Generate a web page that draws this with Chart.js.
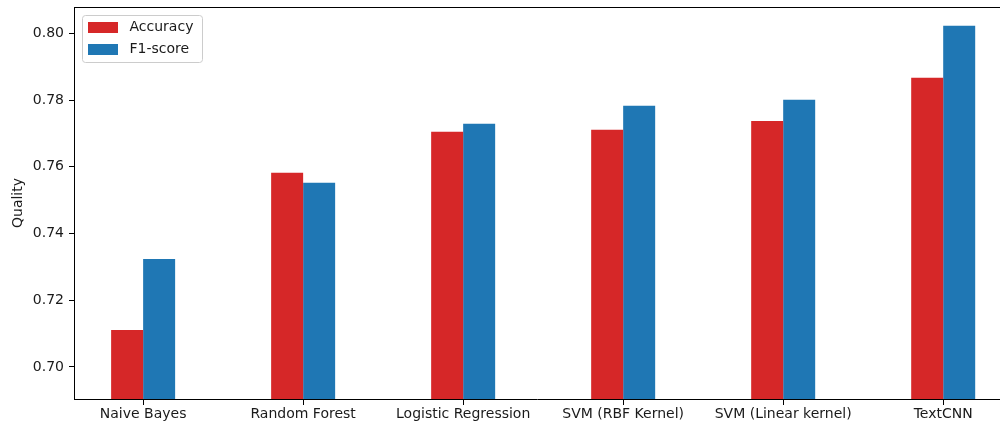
<!DOCTYPE html>
<html>
<head>
<meta charset="utf-8">
<title>Model quality comparison</title>
<script src="https://cdn.jsdelivr.net/npm/chart.js@4.4.1/dist/chart.umd.min.js"></script>
<style>
  html, body { margin: 0; padding: 0; background: #ffffff; overflow: hidden; }
  canvas { display: block; }
</style>
</head>
<body>
<canvas id="chart" width="1000" height="425"></canvas>
<script>
// Classifier names along the x axis
const categories = ['Naive Bayes', 'Random Forest', 'Logistic Regression', 'SVM (RBF Kernel)', 'SVM (Linear kernel)', 'TextCNN'];
// Scores per classifier
const accuracy = [0.7111, 0.7582, 0.7705, 0.7711, 0.7737, 0.7867];
const f1score  = [0.7324, 0.7552, 0.7729, 0.7783, 0.7801, 0.8023];
// Y-axis tick values
const yTicks = [0.70, 0.72, 0.74, 0.76, 0.78, 0.80];

const FONT = 'DejaVu Sans';
const RED = '#d62728';
const BLUE = '#1f77b4';

function toPoints(values) {
  return values.map((v, i) => ({ x: i, y: v }));
}

// Top spine, x tick marks under each category, and an in-plot legend box
const framePlugin = {
  id: 'frameAndLegend',
  afterDraw(chart) {
    const ctx = chart.ctx;
    const area = chart.chartArea;
    const xs = chart.scales.x;
    ctx.save();
    ctx.fillStyle = '#000';
    ctx.fillRect(area.left, Math.round(area.top), area.right - area.left, 1);
    const bottom = Math.round(area.bottom);
    categories.forEach((c, i) => {
      const px = Math.round(xs.getPixelForValue(i));
      ctx.fillRect(px, bottom, 1, 6);
    });

    const bx = area.left + 8.5, by = Math.round(area.top) + 8.5, bw = 120, bh = 47, r = 3;
    ctx.beginPath();
    ctx.moveTo(bx + r, by);
    ctx.lineTo(bx + bw - r, by);
    ctx.arcTo(bx + bw, by, bx + bw, by + r, r);
    ctx.lineTo(bx + bw, by + bh - r);
    ctx.arcTo(bx + bw, by + bh, bx + bw - r, by + bh, r);
    ctx.lineTo(bx + r, by + bh);
    ctx.arcTo(bx, by + bh, bx, by + bh - r, r);
    ctx.lineTo(bx, by + r);
    ctx.arcTo(bx, by, bx + r, by, r);
    ctx.closePath();
    ctx.fillStyle = 'rgba(255,255,255,0.8)';
    ctx.fill();
    ctx.strokeStyle = '#cccccc';
    ctx.lineWidth = 1;
    ctx.stroke();

    ctx.font = '14px "' + FONT + '"';
    ctx.textBaseline = 'middle';
    ctx.textAlign = 'left';
    chart.data.datasets.forEach((ds, i) => {
      const y = Math.round(by) + 6 + i * 22;
      ctx.fillStyle = ds.backgroundColor;
      ctx.fillRect(Math.round(bx) + 5, y, 30, 11);
      ctx.fillStyle = '#1a1a1a';
      ctx.fillText(ds.label, bx + 47, y + 5.5);
    });
    ctx.restore();
  }
};

new Chart(document.getElementById('chart'), {
  type: 'bar',
  data: {
    datasets: [
      { label: 'Accuracy', data: toPoints(accuracy), backgroundColor: RED, borderWidth: 0 },
      { label: 'F1-score', data: toPoints(f1score), backgroundColor: BLUE, borderWidth: 0 }
    ]
  },
  options: {
    responsive: false,
    animation: false,
    devicePixelRatio: 1,
    categoryPercentage: 0.4,
    barPercentage: 1.0,
    layout: { padding: { top: 7, right: 0, bottom: 0, left: 0 } },
    plugins: {
      legend: { display: false },
      tooltip: { enabled: false }
    },
    scales: {
      x: {
        type: 'linear',
        min: -0.432,
        max: 5.355,
        offset: false,
        grid: { offset: false, drawOnChartArea: false, drawTicks: true, tickLength: 5, tickColor: 'rgba(0,0,0,0)' },
        border: { display: true, color: '#000', width: 1 },
        afterBuildTicks(scale) {
          scale.ticks = categories.map((c, i) => ({ value: i }));
        },
        afterFit(scale) {
          scale.height = 26;
          scale.paddingLeft = 0;
          scale.paddingRight = 0;
        },
        ticks: {
          autoSkip: false,
          maxRotation: 0,
          padding: 2,
          color: '#1a1a1a',
          font: { family: FONT, size: 14 },
          callback: (v) => categories[v]
        }
      },
      y: {
        min: 0.6904,
        max: 0.8079,
        grid: { drawOnChartArea: false, drawTicks: true, tickLength: 5, tickColor: '#000', tickWidth: 1 },
        border: { display: true, color: '#000', width: 1 },
        afterBuildTicks(scale) {
          scale.ticks = yTicks.map(v => ({ value: v }));
        },
        afterFit(scale) {
          scale.width = 74;
          scale.paddingTop = 0;
          scale.paddingBottom = 0;
        },
        ticks: {
          padding: 5,
          color: '#1a1a1a',
          font: { family: FONT, size: 14 },
          callback: (v) => Number(v).toFixed(2)
        },
        title: {
          display: true,
          text: 'Quality',
          color: '#1a1a1a',
          font: { family: FONT, size: 14 },
          padding: { top: 10, bottom: 0 }
        }
      }
    }
  },
  plugins: [framePlugin]
});
</script>
</body>
</html>
